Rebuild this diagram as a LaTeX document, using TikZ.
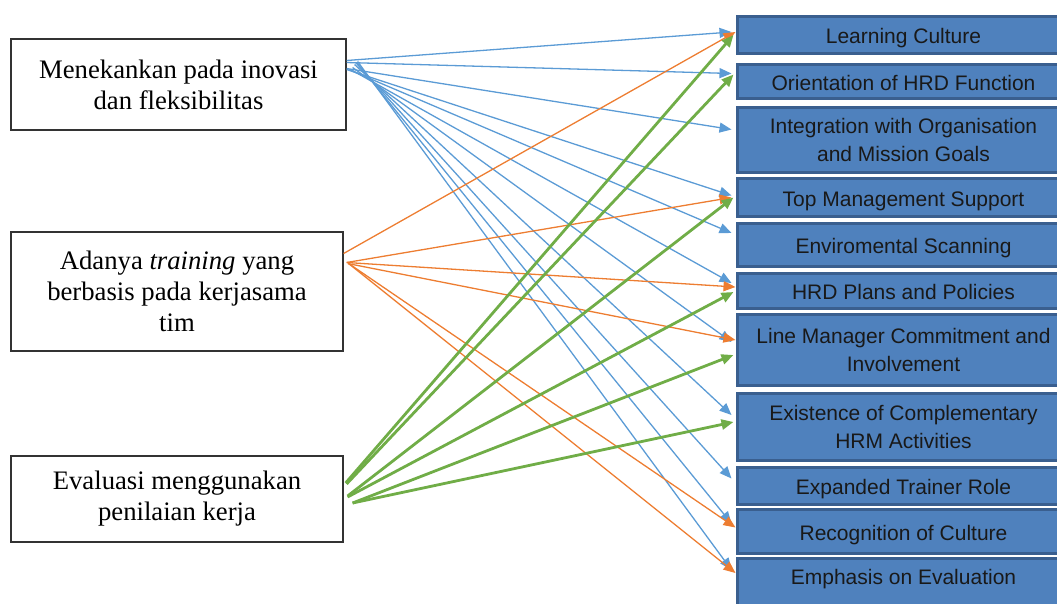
\documentclass[tikz,border=0pt]{standalone}
\usepackage{fontspec}
\setmainfont{Liberation Serif}
\newfontfamily\rsans{Liberation Sans}
\usetikzlibrary{arrows.meta,calc}
\definecolor{rfill}{HTML}{4F81BD}
\definecolor{rdraw}{HTML}{3A5F8F}
\definecolor{cblue}{HTML}{5B9BD5}
\definecolor{corange}{HTML}{ED7D31}
\definecolor{cgreen}{HTML}{70AD47}
\tikzset{
  lbox/.style={draw=black!80, line width=1.2pt, fill=white, minimum width=335pt, align=center, font=\fontsize{26.7}{31}\selectfont, inner sep=0pt},
  rbox/.style={draw=rdraw, line width=3pt, fill=rfill, minimum width=333pt, align=center, font=\rsans\fontsize{21}{28}\selectfont, inner sep=0pt, text=black!90},
  oneline/.style={text height=17pt, text depth=0pt},
  ablue/.style={draw=cblue, line width=1.3pt, -{Triangle[length=12pt,width=10pt]}},
  aorange/.style={draw=corange, line width=1.3pt, -{Triangle[length=12pt,width=10pt]}},
  agreen/.style={draw=cgreen, line width=2.8pt, -{Triangle[length=12pt,width=10pt]}},
}
\begin{document}
\begin{tikzpicture}[x=1pt,y=-1pt]
\useasboundingbox (0,0) rectangle (1057,603);
\begin{scope}
\clip (0,0) rectangle (1057,603);
% right boxes
\node[rbox, oneline, minimum height=37pt] (r1) at (903.5,35) {Learning Culture};
\node[rbox, oneline, minimum height=34pt] (r2) at (903.5,81.5) {Orientation of HRD Function};
\node[rbox, minimum height=65pt] (r3) at (903.5,139.5) {Integration with Organisation\\and Mission Goals};
\node[rbox, oneline, minimum height=38pt] (r4) at (903.5,197.5) {Top Management Support};
\node[rbox, oneline, minimum height=43pt] (r5) at (903.5,245) {Enviromental Scanning};
\node[rbox, oneline, minimum height=35pt] (r6) at (903.5,291) {HRD Plans and Policies};
\node[rbox, minimum height=71pt] (r7) at (903.5,350) {Line Manager Commitment and\\Involvement};
\node[rbox, minimum height=67pt] (r8) at (903.5,427) {Existence of Complementary\\HRM Activities};
\node[rbox, oneline, minimum height=37pt] (r9) at (903.5,485.5) {Expanded Trainer Role};
\node[rbox, oneline, minimum height=44pt] (r10) at (903.5,531.5) {Recognition of Culture};
\node[rbox, minimum height=60pt, text depth=22pt] (r11) at (903.5,588) {Emphasis on Evaluation};
\end{scope}
% left boxes
\node[lbox, minimum height=91pt] (A) at (178.5,84.5) {Menekankan pada inovasi\\dan fleksibilitas};
\node[lbox, minimum width=332pt, minimum height=119pt] (B) at (177,291.5) {Adanya \textit{training} yang\\berbasis pada kerjasama\\tim};
\node[lbox, minimum width=332pt, minimum height=86pt] (C) at (177,499) {Evaluasi menggunakan\\penilaian kerja};
% blue arrows
\draw[ablue] ($(A.east)+(0,-24)$) -- ($(r1.west)+(-4,-3)$);
\draw[ablue] ($(A.east)+(0,-22)$) -- ($(r2.west)+(-4,-8)$);
\draw[ablue] ($(A.east)+(0,-16)$) -- ($(r3.west)+(-4,-10)$);
\draw[ablue] ($(A.east)+(0,-15)$) -- ($(r4.west)+(-4,-2)$);
\draw[ablue] ($(A.east)+(2,-15)$) -- ($(r5.west)+(-4,-12)$);
\draw[ablue] ($(A.east)+(4,-15)$) -- ($(r6.west)+(-4,-8)$);
\draw[ablue] ($(A.east)+(6,-17)$) -- ($(r7.west)+(-4,-8)$);
\draw[ablue] ($(A.east)+(8,-20)$) -- ($(r8.west)+(-4,-12)$);
\draw[ablue] ($(A.east)+(9,-22)$) -- ($(r9.west)+(-4,-7)$);
\draw[ablue] ($(A.east)+(10,-22)$) -- ($(r10.west)+(-4,-8)$);
\draw[ablue] ($(A.east)+(11,-23)$) -- ($(r11.west)+(-4,-18)$);
% orange arrows
\draw[aorange] ($(B.east)+(0,-38)$) -- ($(r1.west)+(0,-3)$);
\draw[aorange] ($(B.east)+(3,-29)$) -- ($(r4.west)+(-4,0)$);
\draw[aorange] ($(B.east)+(3,-29)$) -- ($(r6.west)+(0,-4)$);
\draw[aorange] ($(B.east)+(4,-28)$) -- ($(r7.west)+(0,-10)$);
\draw[aorange] ($(B.east)+(5,-28)$) -- ($(r10.west)+(0,-4)$);
\draw[aorange] ($(B.east)+(5,-28)$) -- ($(r11.west)+(0,-15)$);
% green arrows
\draw[agreen] ($(C.east)+(2,-16)$) -- ($(r1.west)+(-2,0)$);
\draw[agreen] ($(C.east)+(3,-15)$) -- ($(r2.west)+(-2,-7)$);
\draw[agreen] ($(C.east)+(4,-3)$) -- ($(r4.west)+(-2,0)$);
\draw[agreen] ($(C.east)+(4,-2)$) -- ($(r6.west)+(-2,1)$);
\draw[agreen] ($(C.east)+(9,4)$) -- ($(r7.west)+(-2,5)$);
\draw[agreen] ($(C.east)+(9,4)$) -- ($(r8.west)+(-2,-5)$);
\end{tikzpicture}
\end{document}
